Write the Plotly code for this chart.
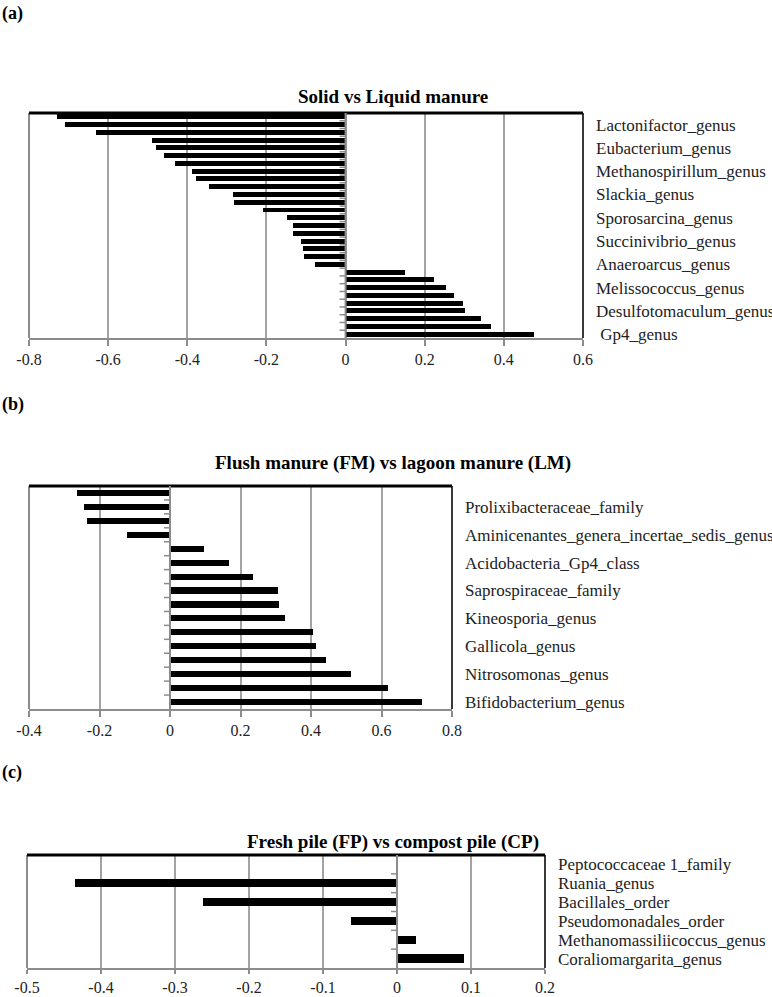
import plotly.graph_objects as go

# ---------------- data ----------------
# (a) Solid vs Liquid manure : 29 bars, listed top to bottom
a_values = [-0.730, -0.708, -0.630, -0.489, -0.480, -0.458, -0.430, -0.388, -0.377, -0.346,
            -0.285, -0.282, -0.209, -0.149, -0.133, -0.132, -0.112, -0.107, -0.106, -0.078,
            0.151, 0.223, 0.253, 0.274, 0.296, 0.302, 0.343, 0.368, 0.476]
a_label_rows = [1, 4, 7, 10, 13, 16, 19, 22, 25, 28]
a_labels = ["Lactonifactor_genus", "Eubacterium_genus", "Methanospirillum_genus", "Slackia_genus",
            "Sporosarcina_genus", "Succinivibrio_genus", "Anaeroarcus_genus", "Melissococcus_genus",
            "Desulfotomaculum_genus", "\u00a0Gp4_genus"]
a_ticks = [-0.8, -0.6, -0.4, -0.2, 0, 0.2, 0.4, 0.6]

# (b) Flush manure vs lagoon manure : 16 bars, top to bottom
b_values = [-0.265, -0.244, -0.236, -0.122, 0.096, 0.168, 0.235, 0.305,
            0.308, 0.325, 0.405, 0.415, 0.443, 0.513, 0.618, 0.715]
b_label_rows = [1, 3, 5, 7, 9, 11, 13, 15]
b_labels = ["Prolixibacteraceae_family", "Aminicenantes_genera_incertae_sedis_genus",
            "Acidobacteria_Gp4_class", "Saprospiraceae_family", "Kineosporia_genus",
            "Gallicola_genus", "Nitrosomonas_genus", "Bifidobacterium_genus"]
b_ticks = [-0.4, -0.2, 0, 0.2, 0.4, 0.6, 0.8]

# (c) Fresh pile vs compost pile : 6 bars, top to bottom
c_labels = ["Peptococcaceae 1_family", "Ruania_genus", "Bacillales_order",
            "Pseudomonadales_order", "Methanomassiliicoccus_genus", "Coraliomargarita_genus"]
c_values = [0.0, -0.435, -0.262, -0.062, 0.026, 0.090]
c_label_rows = [0, 1, 2, 3, 4, 5]
c_ticks = [-0.5, -0.4, -0.3, -0.2, -0.1, 0, 0.1, 0.2]

titles = ["Solid vs Liquid manure", "Flush manure (FM) vs lagoon manure (LM)",
          "Fresh pile (FP) vs compost pile (CP)"]
panel_tags = ["(a)", "(b)", "(c)"]

# ---------------- layout helpers ----------------
W, H = 772, 997
FONT = "Liberation Serif"

def px_x(v):
    return v / W

def px_y(v):
    return 1 - v / H

panels = [
    dict(values=a_values, rows=a_label_rows, labels=a_labels, ticks=a_ticks,
         box=(29, 583, 113, 338), bw=0.64, title_y=96, tag_y=14, tl=6),
    dict(values=b_values, rows=b_label_rows, labels=b_labels, ticks=b_ticks,
         box=(29, 452, 486, 709), bw=0.44, title_y=463, tag_y=404, tl=6),
    dict(values=c_values, rows=c_label_rows, labels=c_labels, ticks=c_ticks,
         box=(27, 545, 855, 968), bw=0.45, title_y=842, tag_y=772, tl=4),
]

fig = go.Figure()
shapes = []
annotations = []
layout = {}

for i, p in enumerate(panels):
    n = len(p["values"])
    suf = "" if i == 0 else str(i + 1)
    xa, ya = "x" + suf, "y" + suf
    x0, x1, y0, y1 = p["box"]

    fig.add_trace(go.Bar(
        x=p["values"], y=list(range(n)), orientation="h",
        marker=dict(color="black", line=dict(width=0)),
        width=p["bw"], xaxis=xa, yaxis=ya, showlegend=False,
    ))

    layout["xaxis" + suf] = dict(
        domain=[px_x(x0), px_x(x1)], anchor=ya,
        range=[p["ticks"][0], p["ticks"][-1]],
        tickvals=p["ticks"], ticktext=[f"{t:g}" for t in p["ticks"]],
        showgrid=True, gridcolor="#a3a3a3", gridwidth=1.5,
        zeroline=False, showline=True, linecolor="#8c8c8c", linewidth=2,
        ticks="outside", ticklen=p["tl"], tickcolor="#8c8c8c", tickwidth=1.5,
        tickfont=dict(family=FONT, size=16, color="#222"),
        automargin=False, fixedrange=True,
    )
    layout["yaxis" + suf] = dict(
        domain=[px_y(y1), px_y(y0)], anchor=xa, side="right",
        range=[n - 0.5, -0.5],
        tickvals=p["rows"], ticktext=p["labels"],
        showgrid=False, zeroline=False, showline=False, ticks="",
        ticklabelstandoff=12,
        tickfont=dict(family=FONT, size=17, color="#222"),
        automargin=False, fixedrange=True,
    )

    xd, yd = xa + " domain", ya + " domain"
    # plot-area frame
    shapes.append(dict(type="line", xref=xd, yref=yd, x0=0, x1=0, y0=0, y1=1,
                       line=dict(color="#8c8c8c", width=2), layer="above"))
    shapes.append(dict(type="line", xref=xd, yref=yd, x0=1, x1=1, y0=0, y1=1,
                       line=dict(color="#3a3a3a", width=2), layer="above"))
    shapes.append(dict(type="line", xref=xd, yref=yd, x0=0, x1=1, y0=1, y1=1,
                       line=dict(color="black", width=3), layer="above"))
    # category axis at zero
    shapes.append(dict(type="line", xref=xa, yref=yd, x0=0, x1=0, y0=0, y1=1,
                       line=dict(color="#8c8c8c", width=2), layer="above"))
    for k in range(n - 1):
        shapes.append(dict(type="line", xref=xa, yref=ya, xsizemode="pixel", xanchor=0,
                           x0=-6, x1=0, y0=k + 0.5, y1=k + 0.5,
                           line=dict(color="#8c8c8c", width=1.5), layer="above"))

    annotations.append(dict(text="<b>" + titles[i] + "</b>", xref="paper", yref="paper",
                            x=px_x(393), y=px_y(p["title_y"]), xanchor="center",
                            yanchor="middle", showarrow=False,
                            font=dict(family=FONT, size=19, color="black")))
    annotations.append(dict(text="<b>" + panel_tags[i] + "</b>", xref="paper", yref="paper",
                            x=px_x(0), y=px_y(p["tag_y"]), xanchor="left",
                            yanchor="middle", showarrow=False,
                            font=dict(family=FONT, size=18, color="black")))

fig.update_layout(
    width=W, height=H, margin=dict(l=0, r=0, t=0, b=0, autoexpand=False),
    paper_bgcolor="white", plot_bgcolor="white",
    shapes=shapes, annotations=annotations, bargap=0,
    **layout,
)

fig.write_html("out.html", config={"displayModeBar": False},
               post_script="document.body.style.margin='0';document.body.style.overflow='hidden';")
